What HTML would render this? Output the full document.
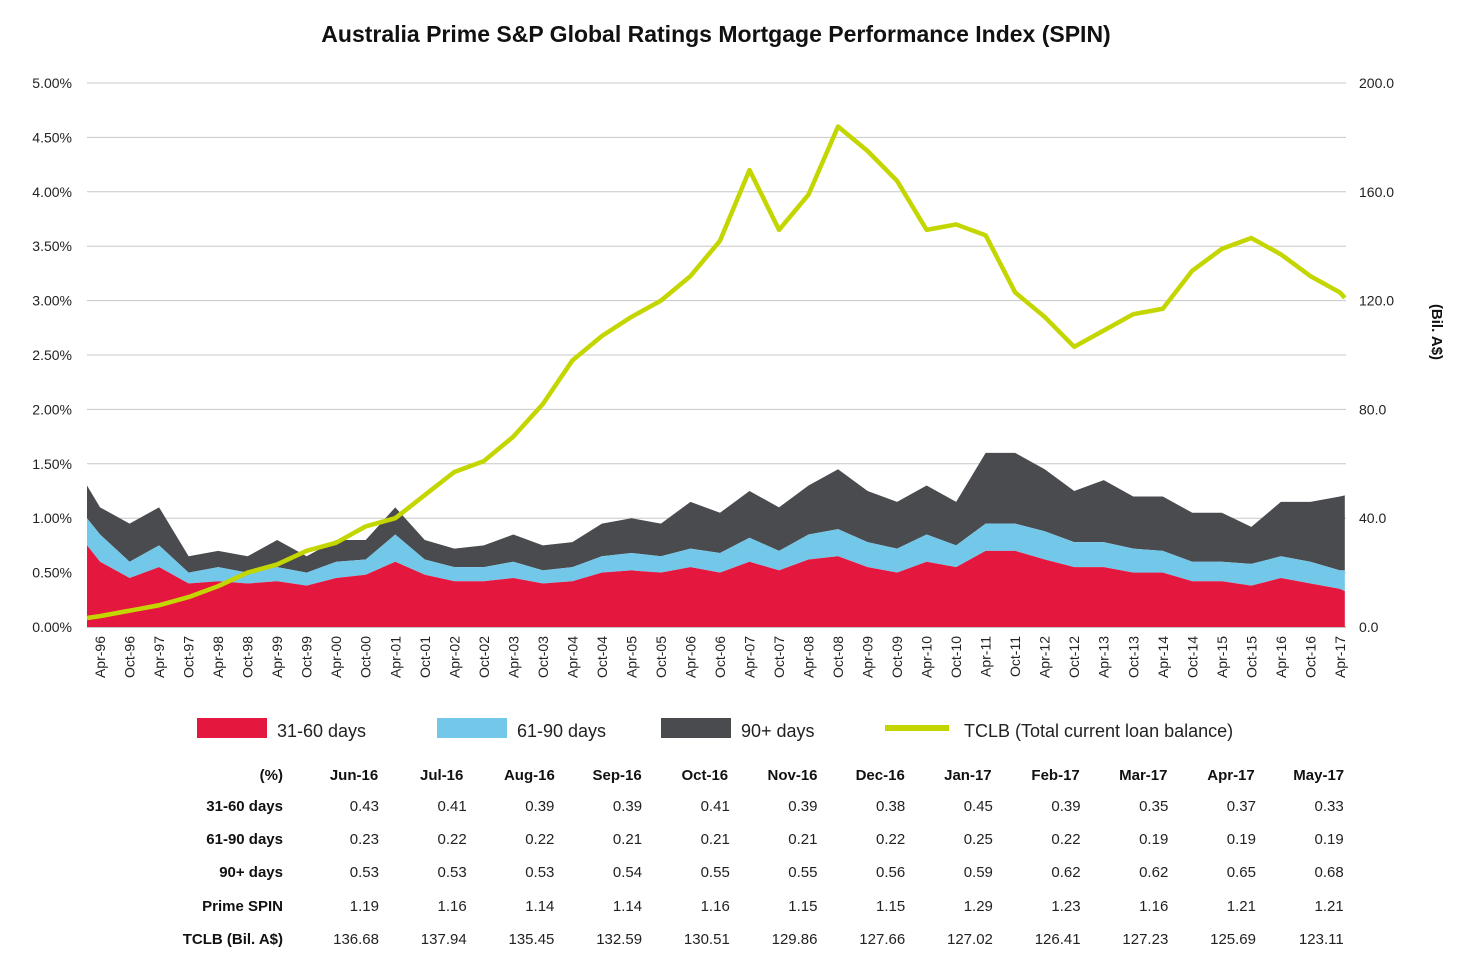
<!DOCTYPE html>
<html><head><meta charset="utf-8"><style>
body{margin:0;background:#fff;font-family:"Liberation Sans",Arial,sans-serif}
svg text{font-family:"Liberation Sans",Arial,sans-serif}
</style></head><body>
<svg id="chart" width="1462" height="971" viewBox="0 0 1462 971" xmlns="http://www.w3.org/2000/svg">
<text x="716" y="42" text-anchor="middle" font-size="23" font-weight="bold" fill="#111">Australia Prime S&amp;P Global Ratings Mortgage Performance Index (SPIN)</text>
<g id="grid"></g><g id="areas"></g><g id="line"></g><g id="axes"></g><g id="legend"></g><g id="table"></g>
<text transform="translate(1432,332) rotate(90)" text-anchor="middle" font-size="15" font-weight="bold" fill="#111">(Bil. A$)</text>
</svg>
<script>
const dates=["Jan-96","Apr-96","Oct-96","Apr-97","Oct-97","Apr-98","Oct-98","Apr-99","Oct-99","Apr-00","Oct-00","Apr-01","Oct-01","Apr-02","Oct-02","Apr-03","Oct-03","Apr-04","Oct-04","Apr-05","Oct-05","Apr-06","Oct-06","Apr-07","Oct-07","Apr-08","Oct-08","Apr-09","Oct-09","Apr-10","Oct-10","Apr-11","Oct-11","Apr-12","Oct-12","Apr-13","Oct-13","Apr-14","Oct-14","Apr-15","Oct-15","Apr-16","Oct-16","Apr-17","May-17"];
const d31=[0.75,0.6,0.45,0.55,0.4,0.42,0.4,0.42,0.38,0.45,0.48,0.6,0.48,0.42,0.42,0.45,0.4,0.42,0.5,0.52,0.5,0.55,0.5,0.6,0.52,0.62,0.65,0.55,0.5,0.6,0.55,0.7,0.7,0.62,0.55,0.55,0.5,0.5,0.42,0.42,0.38,0.45,0.4,0.35,0.33];
const d61=[0.25,0.25,0.15,0.2,0.1,0.13,0.1,0.13,0.12,0.15,0.14,0.25,0.14,0.13,0.13,0.15,0.12,0.13,0.15,0.16,0.15,0.17,0.18,0.22,0.18,0.23,0.25,0.23,0.22,0.25,0.2,0.25,0.25,0.26,0.23,0.23,0.22,0.2,0.18,0.18,0.2,0.2,0.2,0.17,0.19];
const d90=[0.3,0.25,0.35,0.35,0.15,0.15,0.15,0.25,0.15,0.2,0.18,0.25,0.18,0.17,0.2,0.25,0.23,0.23,0.3,0.32,0.3,0.43,0.37,0.43,0.4,0.45,0.55,0.47,0.43,0.45,0.4,0.65,0.65,0.57,0.47,0.57,0.48,0.5,0.45,0.45,0.34,0.5,0.55,0.68,0.69];
const tclb=[3.3,4,6,8,11,15,20,23,28,31,37,40,48.5,57,61,70,82,98,107,114,120,129,142,168,146,159,184,175,164,146,148,144,123,114,103,109,115,117,131,139,143,137,129,123,121];
const leftTicks=["0.00%","0.50%","1.00%","1.50%","2.00%","2.50%","3.00%","3.50%","4.00%","4.50%","5.00%"];
const rightTicks=["0.0","40.0","80.0","120.0","160.0","200.0"];
const tblHead=["Jun-16","Jul-16","Aug-16","Sep-16","Oct-16","Nov-16","Dec-16","Jan-17","Feb-17","Mar-17","Apr-17","May-17"];
const tblRows=["31-60 days","61-90 days","90+ days","Prime SPIN","TCLB (Bil. A$)"];
const r31=["0.43","0.41","0.39","0.39","0.41","0.39","0.38","0.45","0.39","0.35","0.37","0.33"];
const r61=["0.23","0.22","0.22","0.21","0.21","0.21","0.22","0.25","0.22","0.19","0.19","0.19"];
const r90=["0.53","0.53","0.53","0.54","0.55","0.55","0.56","0.59","0.62","0.62","0.65","0.68"];
const rSpin=["1.19","1.16","1.14","1.14","1.16","1.15","1.15","1.29","1.23","1.16","1.21","1.21"];
const rTclb=["136.68","137.94","135.45","132.59","130.51","129.86","127.66","127.02","126.41","127.23","125.69","123.11"];
const NS="http://www.w3.org/2000/svg";
const mons={Jan:0,Feb:1,Mar:2,Apr:3,May:4,Jun:5,Jul:6,Aug:7,Sep:8,Oct:9,Nov:10,Dec:11};
function mIdx(s){const [m,y]=s.split("-");const yr=+y<50?+y+4:+y-96;return yr*12+mons[m];}
function x(s){return Math.max(87,Math.min(1346,85.3+mIdx(s)*4.92));}
function yL(v){return 627-v*108.8;}
function yR(v){return 627-v*2.72;}
function mk(tag,attrs,parent,text){const e=document.createElementNS(NS,tag);for(const k in attrs)e.setAttribute(k,attrs[k]);if(text!=null)e.textContent=text;document.getElementById(parent).appendChild(e);return e;}
leftTicks.forEach((t,i)=>{const v=i*0.5;
 const g=mk("line",{x1:87,x2:1346,y1:yL(v),y2:yL(v),stroke:i==0?"#888":"#c8c8c8","stroke-width":1},"grid");
 
 
 const tx=mk("text",{x:72,y:yL(v)+5,"text-anchor":"end","font-size":14,fill:"#222"},"axes",t);
 
 
});
rightTicks.forEach((t,i)=>{const v=i*40;
 const tx=mk("text",{x:1359,y:yR(v)+5,"font-size":14,fill:"#222"},"axes",t);
 
 
});
for(let m=3;m<=255;m+=6){const yy=Math.floor(m/12)+96;const lab=(m%12==3?"Apr-":"Oct-")+String(yy%100).padStart(2,"0");
 const xx=85.3+m*4.92;
 const tx=mk("text",{transform:`translate(${xx+5},${636}) rotate(-90)`,"text-anchor":"end","font-size":14,fill:"#222"},"axes",lab);
 
 
}
function area(lo,hi,color,name){let p="M"+dates.map((d,i)=>x(d)+","+yL(hi[i])).join("L");
 for(let i=dates.length-1;i>=0;i--)p+="L"+x(dates[i])+","+yL(lo[i]);p+="Z";
 const e=mk("path",{d:p,fill:color},"areas");
 
 }
const zero=dates.map(()=>0),c1=d31.slice(),c2=d31.map((v,i)=>v+d61[i]),c3=c2.map((v,i)=>v+d90[i]);
area(c2,c3,"#4a4b4f","area-90-plus-days");
area(c1,c2,"#73c8ea","area-61-90-days");
area(zero,c1,"#e4173e","area-31-60-days");
const ln=mk("path",{d:"M"+dates.map((d,i)=>x(d)+","+yR(tclb[i])).join("L"),fill:"none",stroke:"#c4d600","stroke-width":4.5,"stroke-linejoin":"round"},"line");


const leg=[["#e4173e",197,277,"31-60 days"],["#73c8ea",437,517,"61-90 days"],["#4a4b4f",661,741,"90+ days"]];
leg.forEach(l=>{const r=mk("rect",{x:l[1],y:718,width:70,height:20,fill:l[0]},"legend");
 
 
 const t=mk("text",{x:l[2],y:737,"font-size":18,fill:"#222"},"legend",l[3]);
 
 });
const ll=mk("line",{x1:885,x2:949,y1:728,y2:728,stroke:"#c4d600","stroke-width":6},"legend");


const lt=mk("text",{x:964,y:737,"font-size":18,fill:"#222"},"legend","TCLB (Total current loan balance)");


const rowY=[805,838,871,905,938];
const h0=mk("text",{x:283,y:780,"text-anchor":"end","font-size":15,"font-weight":"bold",fill:"#111"},"table","(%)");


tblHead.forEach((h,i)=>{const t=mk("text",{x:354+i*87.7,y:780,"text-anchor":"middle","font-size":15,"font-weight":"bold",fill:"#111"},"table",h);
 
 });
const rows=[r31,r61,r90,rSpin,rTclb];
tblRows.forEach((r,j)=>{const t=mk("text",{x:283,y:rowY[j]+6,"text-anchor":"end","font-size":15,"font-weight":"bold",fill:"#111"},"table",r);
 
 
 rows[j].forEach((v,i)=>{const c=mk("text",{x:379+i*87.7,y:rowY[j]+6,"text-anchor":"end","font-size":15,fill:"#222"},"table",v);
  
  });});
</script>
</body></html>
